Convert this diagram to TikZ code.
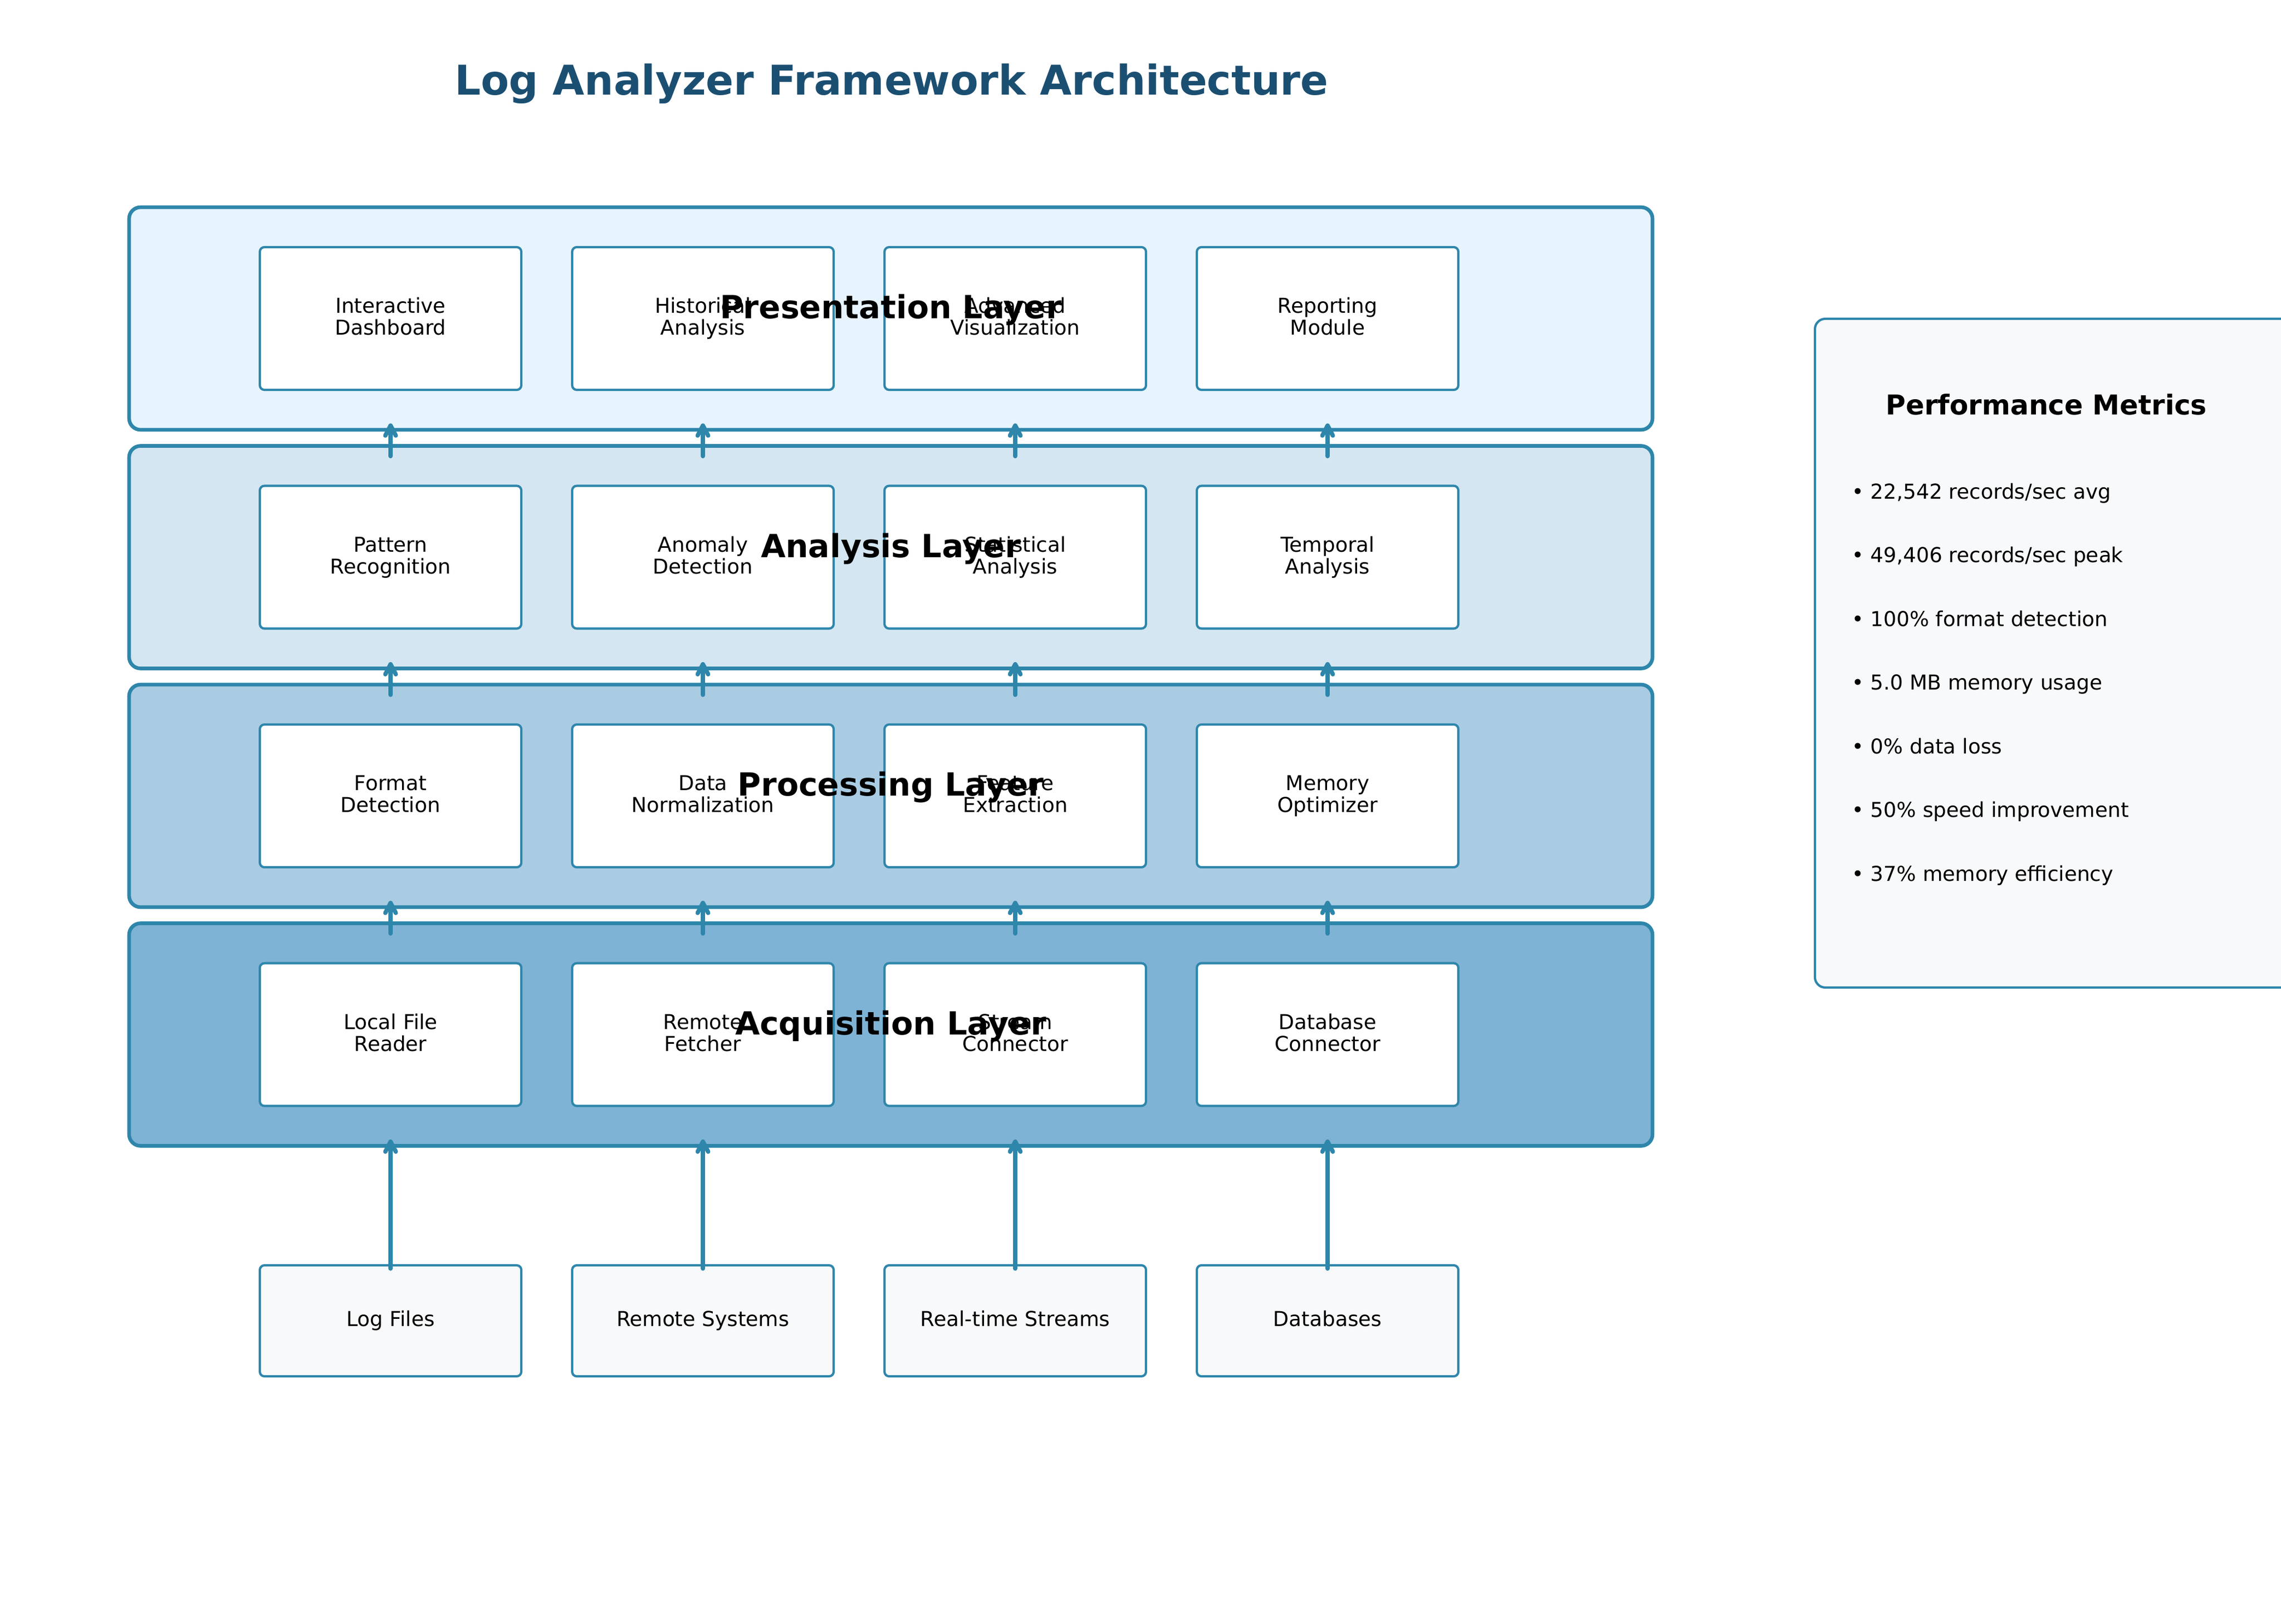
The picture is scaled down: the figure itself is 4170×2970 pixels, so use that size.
\documentclass[tikz,border=0pt]{standalone}
\usepackage{fontspec}
\setmainfont{DejaVu Sans}
\usetikzlibrary{arrows.meta}
\definecolor{edgec}{HTML}{2E86AB}
\definecolor{titlec}{HTML}{1B4F72}
\definecolor{presfill}{HTML}{E8F4FD}
\definecolor{anafill}{HTML}{D4E6F1}
\definecolor{procfill}{HTML}{A9CCE3}
\definecolor{acqfill}{HTML}{7FB3D5}
\definecolor{srcfill}{HTML}{F8F9FA}
\tikzset{
  layerbox/.style={draw=edgec, line width=1.6pt, rounded corners=5pt,
    minimum width=668.4pt, minimum height=97.68pt, inner sep=0pt},
  comp/.style={draw=edgec, fill=white, line width=1pt, rounded corners=2pt,
    minimum width=114.72pt, minimum height=62.64pt, inner sep=0pt, align=center,
    font=\fontsize{9}{9.6}\selectfont, text height=15pt, text depth=0.6pt},
  srcbox/.style={draw=edgec, fill=srcfill, line width=1pt, rounded corners=2pt,
    minimum width=114.72pt, minimum height=48.72pt, inner sep=0pt,
    font=\fontsize{9}{9.6}\selectfont, text height=6.5pt, text depth=1.5pt},
  layerlabel/.style={anchor=base, inner sep=0pt, font=\fontsize{14}{16.8}\selectfont\bfseries},
  bullet/.style={anchor=base west, inner sep=0pt, font=\fontsize{9}{10.8}\selectfont},
  flow/.style={draw=edgec, line width=1.9pt, line cap=round,
    -{Straight Barb[round,length=4.4pt,width=4.6pt]}}
}
\begin{document}
\begin{tikzpicture}[x=0.24pt,y=-0.24pt]
\useasboundingbox[fill=white] (0,0) rectangle (4170,2970);
\clip (0,0) rectangle (4170,2970);

% title
\node[anchor=base, inner sep=0pt, text=titlec, font=\fontsize{18}{21.6}\selectfont\bfseries]
  (title) at (1630,173.5) {Log Analyzer Framework Architecture};

% layers
\node[layerbox, fill=presfill] (pres) at (1628.5,582.5) {};
\node[layerbox, fill=anafill]  (ana)  at (1628.5,1019) {};
\node[layerbox, fill=procfill] (proc) at (1628.5,1455.5) {};
\node[layerbox, fill=acqfill]  (acq)  at (1628.5,1892) {};

% presentation components
\node[comp] (p1) at (714,582.5)  {Interactive\\Dashboard};
\node[comp] (p2) at (1285,582.5) {Historical\\Analysis};
\node[comp] (p3) at (1856,582.5) {Advanced\\Visualization};
\node[comp] (p4) at (2427,582.5) {Reporting\\Module};
% analysis components
\node[comp] (a1) at (714,1019)  {Pattern\\Recognition};
\node[comp] (a2) at (1285,1019) {Anomaly\\Detection};
\node[comp] (a3) at (1856,1019) {Statistical\\Analysis};
\node[comp] (a4) at (2427,1019) {Temporal\\Analysis};
% processing components
\node[comp] (r1) at (714,1455.5)  {Format\\Detection};
\node[comp] (r2) at (1285,1455.5) {Data\\Normalization};
\node[comp] (r3) at (1856,1455.5) {Feature\\Extraction};
\node[comp] (r4) at (2427,1455.5) {Memory\\Optimizer};
% acquisition components
\node[comp] (q1) at (714,1892)  {Local File\\Reader};
\node[comp] (q2) at (1285,1892) {Remote\\Fetcher};
\node[comp] (q3) at (1856,1892) {Stream\\Connector};
\node[comp] (q4) at (2427,1892) {Database\\Connector};

% layer labels (on top)
\node[layerlabel] (presL) at (1628.5,582.5) {Presentation Layer};
\node[layerlabel] (anaL)  at (1628.5,1019)  {Analysis Layer};
\node[layerlabel] (procL) at (1628.5,1455.5) {Processing Layer};
\node[layerlabel] (acqL)  at (1628.5,1892)  {Acquisition Layer};

% sources
\node[srcbox] (s1) at (714,2415.5)  {Log Files};
\node[srcbox] (s2) at (1285,2415.5) {Remote Systems};
\node[srcbox] (s3) at (1856,2415.5) {Real-time Streams};
\node[srcbox] (s4) at (2427,2415.5) {Databases};

% arrows between layers
\foreach \lo/\hi/\lc/\hc in {ana/pres/a/p, proc/ana/r/a, acq/proc/q/r}{
  \foreach \i in {1,2,3,4}{
    \draw[flow] ([yshift=-5.28pt]\lo.north -| \lc\i) -- ([yshift=3.6pt]\hi.south -| \hc\i);
  }
}
% arrows from sources
\foreach \i in {1,2,3,4}{
  \draw[flow] ([yshift=-1.92pt]s\i.north) -- ([yshift=3.6pt]acq.south -| s\i);
}

% metrics panel
\node[draw=edgec, fill=srcfill, line width=1pt, rounded corners=4.5pt,
  minimum width=228.5pt, minimum height=293.5pt, inner sep=0pt] (metrics) at (3794,1194.5) {};
\node[anchor=base, inner sep=0pt, font=\fontsize{12}{14.4}\selectfont\bfseries]
  (mtitle) at (3741,758) {Performance Metrics};
\node[bullet] (m1) at (3385,912)    {• 22,542 records/sec avg};
\node[bullet] (m2) at (3385,1028.5) {• 49,406 records/sec peak};
\node[bullet] (m3) at (3385,1145)   {• 100\% format detection};
\node[bullet] (m4) at (3385,1261.5) {• 5.0 MB memory usage};
\node[bullet] (m5) at (3385,1378)   {• 0\% data loss};
\node[bullet] (m6) at (3385,1494.5) {• 50\% speed improvement};
\node[bullet] (m7) at (3385,1611)   {• 37\% memory efficiency};
\end{tikzpicture}
\end{document}
